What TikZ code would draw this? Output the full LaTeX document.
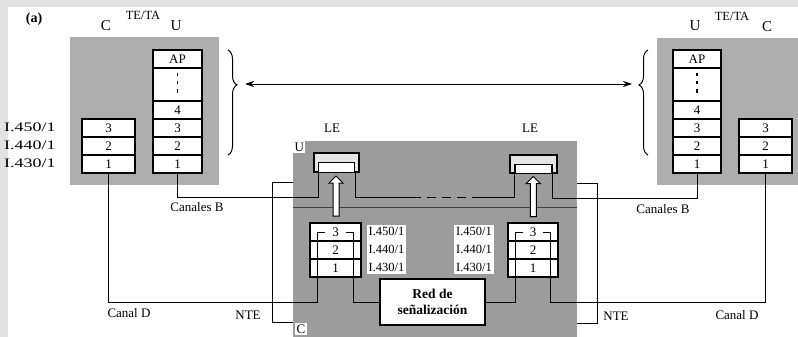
\documentclass[tikz,border=0pt]{standalone}
\usepackage{fontspec}
\setmainfont{Liberation Serif}
\usepackage{tikz}
\usetikzlibrary{arrows.meta, positioning, calc, decorations.pathreplacing, shapes.arrows}
\definecolor{tegray}{RGB}{174,174,174}
\definecolor{legray}{RGB}{156,156,156}
\definecolor{pagebg}{RGB}{226,226,226}

\begin{document}
\begin{tikzpicture}[x=1pt, y=-1pt,
    capa/.style={draw, line width=1.4pt, fill=white, minimum width=#1,
                 minimum height=18pt, inner sep=0pt, font=\fontsize{13}{13}\selectfont},
    capa/.default=50pt,
    caja/.style={fill=#1, inner sep=0pt},
    linea/.style={line width=0.9pt},
    texto/.style={font=\fontsize{13}{13}\selectfont, inner sep=1pt},
    plano/.style={font=\fontsize{15}{15}\selectfont, inner sep=1pt},
    rec/.style={font=\fontsize{13}{13}\selectfont, inner sep=0pt, anchor=west},
    recbox/.style={fill=white, align=left, inner sep=2pt,
                   font=\fontsize{12.5}{18}\selectfont},
    flecha/.style={single arrow, draw, line width=1pt, fill=white, rotate=90,
                   minimum height=40pt, minimum width=13pt, inner xsep=0pt,
                   inner ysep=2.5pt, single arrow head extend=4pt},
    puntos/.style={line width=1.3pt, dash pattern=on 3pt off 5pt},
    llave/.style={line width=1pt, decorate, decoration={brace, amplitude=9pt, aspect=#1}}
]
\useasboundingbox (0,0) rectangle (798,337);
\fill[pagebg] (0,0) rectangle (798,337);
\fill[white] (8,7) rectangle (798,337);

% bloques grises
\node[caja=tegray, minimum width=149pt, minimum height=148pt] (teL) at (144.5,111) {};
\node[caja=tegray, minimum width=141pt, minimum height=147pt] (teR) at (727.5,111.5) {};
\node[caja=legray, minimum width=284pt, minimum height=196pt] (le) at (435,239) {};
\draw[line width=0.6pt, black!75] (le.west |- 0,207) -- (le.east |- 0,207);

% pilas de protocolos TE/TA
\foreach \n/\y in {3/128,2/146,1/164}{
    \node[capa=53pt] (lc\n) at (108.5,\y) {\n};
    \node[capa=53pt] (rc\n) at (765.5,\y) {\n};
}
\foreach \n/\y in {4/110,3/128,2/146,1/164}{
    \node[capa=49pt] (lu\n) at (177.5,\y) {\n};
    \node[capa=48pt] (ru\n) at (697,\y) {\n};
}
\node[capa=49pt, minimum height=33pt] (lud) at (177.5,84.5) {};
\node[capa=48pt, minimum height=33pt] (rud) at (697,84.5) {};
\draw[puntos] ($(lud.center)+(0,-11)$) -- ($(lud.center)+(0,12)$);
\draw[puntos] ($(rud.center)+(0,-11)$) -- ($(rud.center)+(0,12)$);
\node[capa=49pt] (lap) at (177.5,59) {AP};
\node[capa=48pt] (rap) at (697,59) {AP};

\node[texto, font=\bfseries\fontsize{14}{14}\selectfont] (fig) at (34,19) {(a)};
\node[texto, font=\fontsize{12.5}{12.5}\selectfont] (tetaL) at (143,15) {TE/TA};
\node[plano] (cL) at (106,26) {C};
\node[plano] (uL) at (176,26) {U};
\node[texto, font=\fontsize{12.5}{12.5}\selectfont] (tetaR) at (732,16) {TE/TA};
\node[plano] (uR) at (695,26) {U};
\node[plano] (cR) at (767,27) {C};

\foreach \t/\y in {450/127,440/145,430/163}
    \node[rec] (i\t) at (4,\y) {\scalebox{1.38}[1]{I.\t/1}};

% llaves y flecha doble
\draw[llave=0.333] (228,50) -- (228,155);
\draw[llave=0.667] (648,155) -- (648,50);
\coordinate (pL) at (245,84);
\coordinate (pR) at (632,84);
\draw[linea, {Stealth[length=9pt,width=6pt]}-{Stealth[length=9pt,width=6pt]}] (pL) -- (pR);

% central LE
\node[texto] (leL) at (332,128) {LE};
\node[texto] (leR) at (530,128) {LE};
\node[fill=white, inner sep=1.5pt, anchor=north west, font=\fontsize{13}{13}\selectfont] (leU) at (le.north west) {U};
\node[fill=white, inner sep=1.5pt, anchor=south west, font=\fontsize{13}{13}\selectfont] (leC) at ($(le.south west)+(2,-2)$) {C};

\node[draw, line width=1.4pt, fill=gray!20, minimum width=45pt, minimum height=19pt, inner sep=0pt] (leboxL) at (336.5,162.5) {};
\node[draw, line width=1.1pt, fill=white, minimum width=36pt, minimum height=10pt, inner sep=0pt, anchor=south] (lewinL) at (leboxL.south) {};
\node[draw, line width=1.4pt, fill=gray!20, minimum width=47pt, minimum height=18pt, inner sep=0pt] (leboxR) at (533.5,164) {};
\node[draw, line width=1.1pt, fill=white, minimum width=37pt, minimum height=9pt, inner sep=0pt, anchor=south] (lewinR) at (leboxR.south) {};

\foreach \n/\y in {3/232,2/250,1/268}{
    \node[capa=51pt] (ls\n) at (335.5,\y) {\n};
    \node[capa=50pt] (rs\n) at (533,\y) {\n};
}
\node[recbox] (recL) at (386.5,249.5) {I.450/1\\I.440/1\\I.430/1};
\node[recbox] (recR) at (474,249.5) {I.450/1\\I.440/1\\I.430/1};

\node[flecha] (upL) at ($(ls3.north)!0.5!(lewinL.south)$) {};
\node[flecha] (upR) at ($(rs3.north)!0.5!(lewinR.south)$) {};

\node[draw, line width=1.8pt, fill=white, minimum width=105pt, minimum height=46pt,
      align=center, font=\bfseries\fontsize{13.5}{16}\selectfont] (red) at (432.5,302) {Red de\\señalización};

% canales B
\draw[linea] (lu1.south) -- ++(0,24) -| (lewinL.south west);
\draw[linea] (lewinL.south east) -- ++(0,25) coordinate (b1) -- ++(57,0) coordinate (b2);
\draw[linea, dash pattern=on 9pt off 6pt] (b2) -- ++(64,0) coordinate (b3);
\draw[linea] (b3) -| (lewinR.south west);
\draw[linea] (lewinR.south east) -- ++(0,25) -| (ru1.south);

% canal D y red de senalizacion
\draw[linea] ($(ls3.west)+(16,0)$) -- ($(ls3.west)+(8,0)$) -- ++(0,70) -| (lc1.south);
\draw[linea] ($(ls3.east)+(-16,0)$) -- ($(ls3.east)+(-8,0)$) -- ++(0,70) -- (red.west);
\draw[linea] ($(rs3.west)+(16,0)$) -- ($(rs3.west)+(8,0)$) -- ++(0,70) -- (red.east);
\draw[linea] ($(rs3.east)+(-16,0)$) -- ($(rs3.east)+(-8,0)$) -- ++(0,70) -| (rc1.south);

% NTE
\draw[linea] ($(le.north west)+(0,42)$) -- ++(-20,0) |- ($(le.south west)+(0,-15)$);
\draw[linea] ($(le.north east)+(0,43)$) -- ++(20,0) |- ($(le.south east)+(0,-14)$);

\node[texto] (cbL) at (197,207) {Canales B};
\node[texto] (cbR) at (663,209) {Canales B};
\node[texto] (cdL) at (129,313) {Canal D};
\node[texto] (cdR) at (737,315) {Canal D};
\node[texto] (nteL) at (248,315) {NTE};
\node[texto] (nteR) at (616,316) {NTE};
\end{tikzpicture}
\end{document}
